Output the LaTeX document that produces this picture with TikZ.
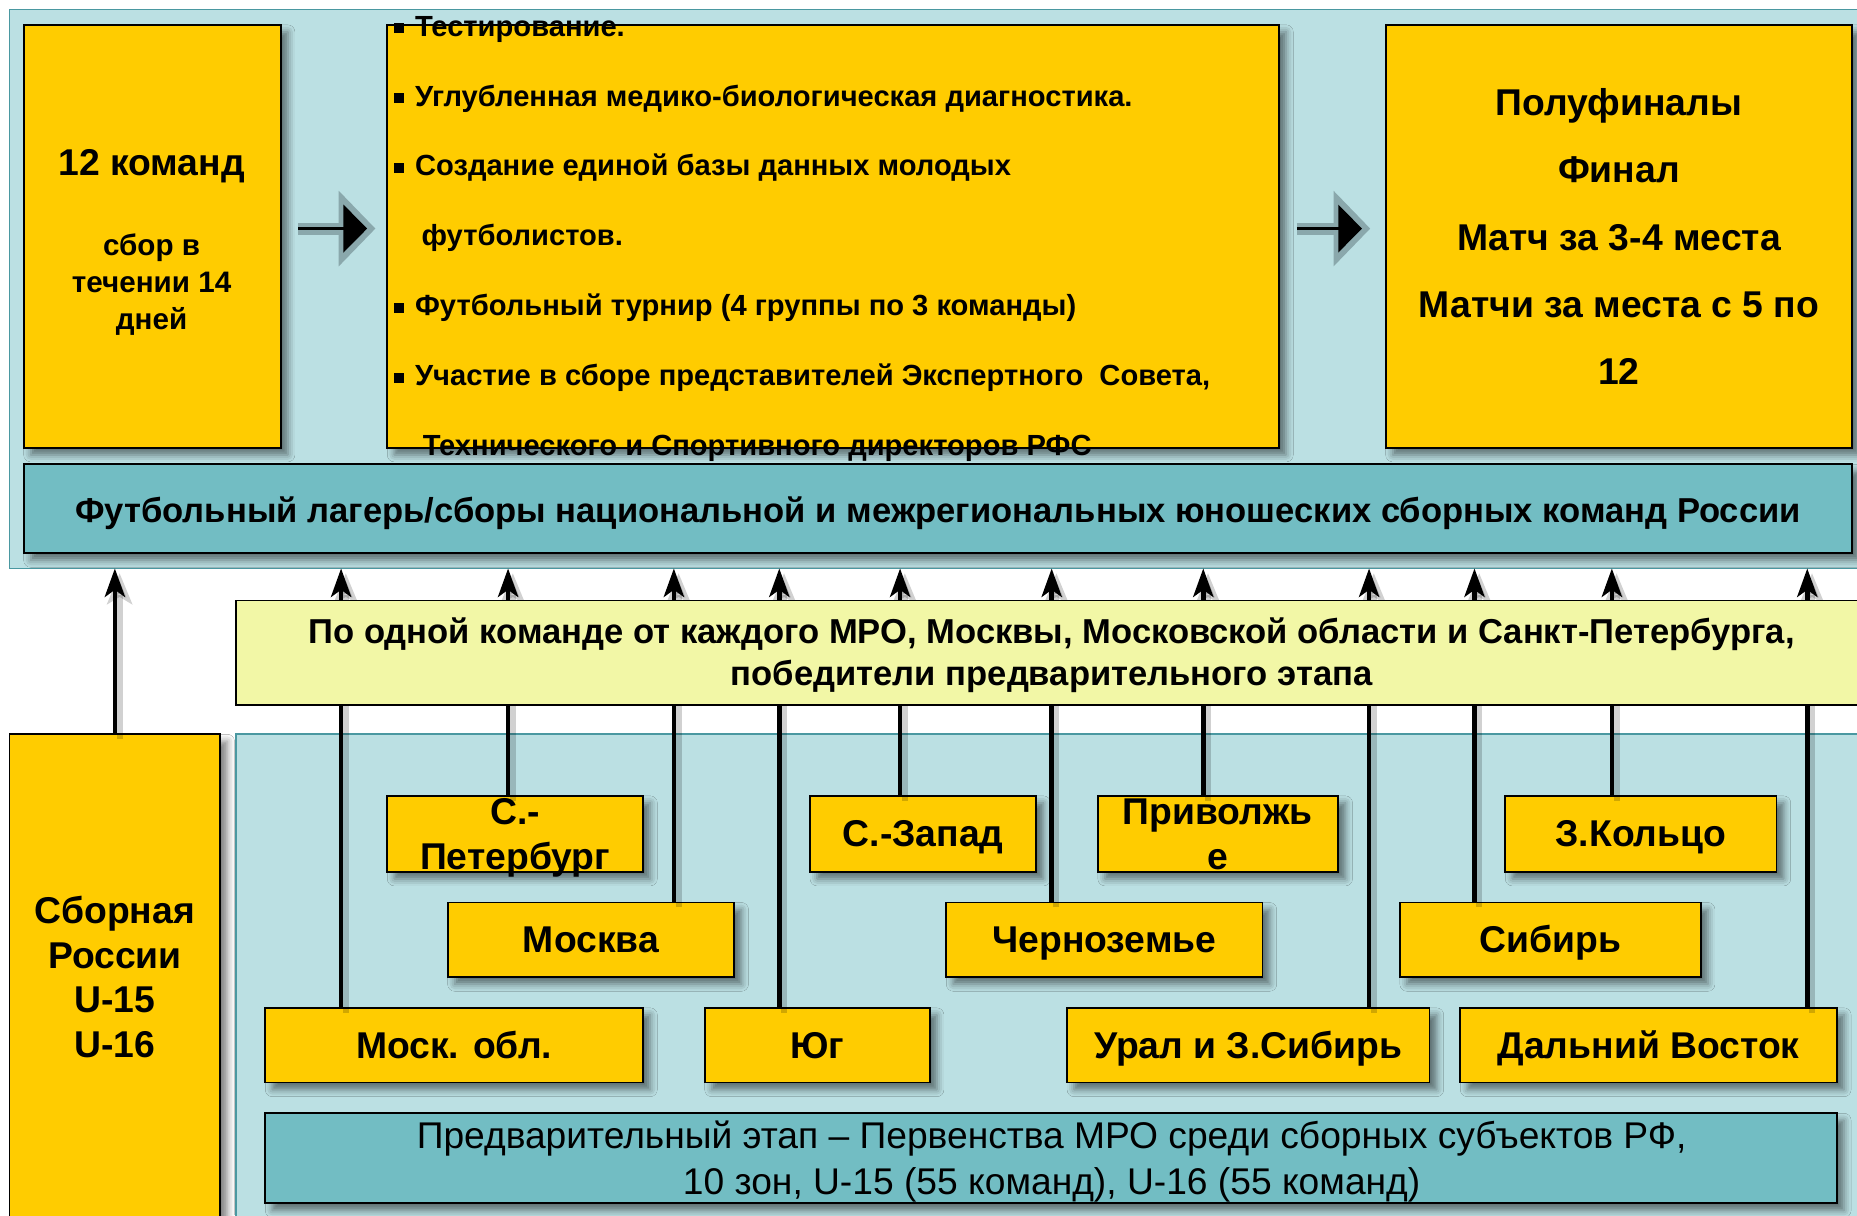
\documentclass[tikz,border=0pt]{standalone}
\usepackage{fontspec}
\setmainfont{Liberation Sans}
\usetikzlibrary{arrows.meta,shadows.blur}
\definecolor{ylw}{RGB}{255,204,0}
\definecolor{lcyan}{RGB}{187,224,227}
\definecolor{tealb}{RGB}{114,189,195}
\definecolor{tealline}{RGB}{74,152,161}
\definecolor{lyel}{RGB}{242,247,166}
\definecolor{haloc}{RGB}{138,168,172}
\newcommand\mkbox[6]{\node[#1,anchor=north west,minimum width={(#5-#3)*1pt},minimum height={(#6-#4)*1pt}] (#2) at (#3,#4) {};}
\begin{document}
\begin{tikzpicture}[x=1pt,y=-1pt,
  every node/.style={inner sep=0pt,outer sep=0pt},
  shd/.style={blur shadow={shadow xshift=6pt,shadow yshift=-6pt,shadow blur radius=6pt,shadow opacity=50}},
  ybox/.style={draw=black,line width=1.6pt,fill=ylw,shd},
  panel/.style={draw=tealline,line width=1.6pt,fill=lcyan},
  band/.style={draw=black,line width=1.6pt,fill=tealb,shd},
  lybox/.style={draw=black,line width=1.6pt,fill=lyel},
  conn/.style={line width=3.8pt,-{Stealth[length=24pt,width=17pt,inset=6pt]}},
  connshd/.style={line width=5pt,draw=black,opacity=0.18,-{Stealth[length=26pt,width=21pt,inset=6pt]},transform canvas={shift={(4pt,-4pt)}}},
  halo/.style={line width=10pt,draw=haloc,-{Triangle[length=31pt,width=62pt]}},
  blk/.style={line width=2.4pt,draw=black,-{Triangle[length=20pt,width=40pt]}},
  fbig/.style={font=\fontsize{31.5}{31.5}\selectfont\bfseries},
  fmid/.style={font=\fontsize{25}{25}\selectfont\bfseries},
  flist/.style={font=\fontsize{24.6}{24.6}\selectfont\bfseries},
  freg/.style={font=\fontsize{31.5}{31.5}\selectfont\bfseries},
  fband/.style={font=\fontsize{29.2}{29.2}\selectfont\bfseries},
  fwin/.style={font=\fontsize{29.2}{29.2}\selectfont\bfseries},
  fpre/.style={font=\fontsize{31.4}{31.4}\selectfont},
]
\useasboundingbox[fill=white] (0,0) rectangle (1568,1026);
\clip (0,0) rectangle (1568,1026);

% panels
\mkbox{panel}{top}{8}{8}{1590}{480}
\mkbox{panel}{bot}{199}{620}{1590}{1040}
\mkbox{ybox}{sb}{8}{620}{186}{1040}

% region boxes
\mkbox{ybox}{spb}{327}{672}{543}{736}
\mkbox{ybox}{szap}{684}{672}{875}{736}
\mkbox{ybox}{pvol}{927}{672}{1130}{736}
\mkbox{ybox}{zk}{1271}{672}{1500}{736}
\mkbox{ybox}{mos}{378}{762}{620}{825}
\mkbox{ybox}{chern}{799}{762}{1066}{825}
\mkbox{ybox}{sib}{1182}{762}{1436}{825}
\mkbox{ybox}{msk}{224}{851}{543}{914}
\mkbox{ybox}{yug}{595}{851}{785}{914}
\mkbox{ybox}{ural}{901}{851}{1207}{914}
\mkbox{ybox}{dv}{1233}{851}{1551}{914}
\mkbox{band}{pre}{224}{940}{1551}{1016}

% connectors
\draw[connshd] (sb.north) -- (sb.north |- top.south);
\draw[conn] (sb.north) -- (sb.north |- top.south);
\foreach \n/\xx in {msk/288,spb/429,mos/569,yug/658,szap/760,chern/888,pvol/1016,ural/1156,sib/1245,zk/1361,dv/1526}{
  \draw[connshd] (\n.north -| \xx,0) -- (top.south -| \xx,0);
  \draw[conn] (\n.north -| \xx,0) -- (top.south -| \xx,0);
}

% winners box
\mkbox{lybox}{win}{199}{507}{1577}{595}

% top row
\mkbox{ybox}{k12}{20}{21}{237}{378}
\mkbox{ybox}{mid}{327}{21}{1080}{378}
\mkbox{ybox}{fin}{1170}{21}{1564}{378}
\mkbox{band}{camp}{20}{392}{1564}{467}

% block arrows
\draw[halo,shorten <=15pt,shorten >=10pt] (k12.east |- 0,193) -- (mid.west |- 0,193);
\draw[blk,shorten <=15pt,shorten >=17pt] (k12.east |- 0,193) -- (mid.west |- 0,193);
\draw[halo,shorten <=15pt,shorten >=13pt] (mid.east |- 0,193) -- (fin.west |- 0,193);
\draw[blk,shorten <=15pt,shorten >=20pt] (mid.east |- 0,193) -- (fin.west |- 0,193);

% texts top row
\node[fbig,anchor=base] (k12t) at (128,148) {12 команд};
\foreach \t [count=\i] in {сбор в,течении 14,дней}
  \node[fmid,anchor=base] (k12t\i) at (128,{216+31*(\i-1)}) {\t};
\foreach \t [count=\i] in {Полуфиналы,Финал,Матч за 3-4 места,Матчи за места с 5 по,12}
  \node[fbig,anchor=base] (fint\i) at (1367,{97.5+56.8*(\i-1)}) {\t};
\newcommand\bul{\rule[2.4pt]{8.5pt}{8.5pt}\hspace{9pt}}
\node[flist,anchor=base west] (m1) at (333,30.4) {\bul Тестирование.};
\node[flist,anchor=base west] (m2) at (333,89.5) {\bul Углубленная медико-биологическая диагностика.};
\node[flist,anchor=base west] (m3) at (333,148.6) {\bul Создание единой базы данных молодых};
\node[flist,anchor=base west] (m4) at (356,207.7) {футболистов.};
\node[flist,anchor=base west] (m5) at (333,266.8) {\bul Футбольный турнир (4 группы по 3 команды)};
\node[flist,anchor=base west] (m6) at (333,325.9) {\bul Участие в сборе представителей Экспертного\ \ Совета,};
\node[flist,anchor=base west] (m7) at (357,385) {Технического и Спортивного директоров РФС};
\node[fband,anchor=base] (campt) at (792,441) {Футбольный лагерь/сборы национальной и межрегиональных юношеских сборных команд России};

% winners text
\node[fwin,anchor=base] (wint1) at (888,543.4) {По одной команде от каждого МРО, Москвы, Московской области и Санкт-Петербурга,};
\node[fwin,anchor=base] (wint2) at (888,578.5) {победители предварительного этапа};

% Сборная
\foreach \t [count=\i] in {Сборная,России,U-15,U-16}
  \node[freg,anchor=base] (sbt\i) at (97,{780+37.6*(\i-1)}) {\t};

% region texts
\node[freg,anchor=base] (spbt1) at (435,696) {С.-};
\node[freg,anchor=base] (spbt2) at (435,734) {Петербург};
\node[freg,anchor=base] (pvolt1) at (1028,696) {Приволжь};
\node[freg,anchor=base] (pvolt2) at (1028,734) {е};
\foreach \n/\t in {szap/С.-Запад,zk/З.Кольцо,mos/Москва,chern/Черноземье,sib/Сибирь,msk/Моск. обл.,yug/Юг,ural/Урал и З.Сибирь,dv/Дальний Восток}
  \node[freg,anchor=base] (\n t) at ([yshift=-11pt]\n.center) {\t};

% preliminary text
\node[fpre,anchor=base] (pret1) at (888,970) {Предварительный этап – Первенства МРО среди сборных субъектов РФ,};
\node[fpre,anchor=base] (pret2) at (888,1009) {10 зон, U-15 (55 команд), U-16 (55 команд)};
\end{tikzpicture}
\end{document}
